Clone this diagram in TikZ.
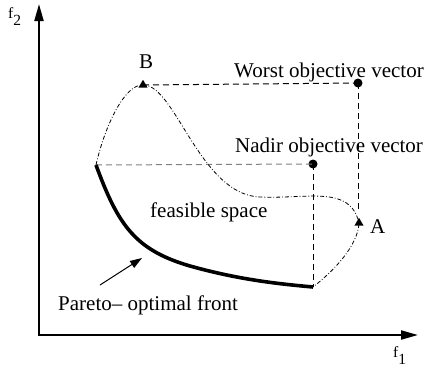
\documentclass[tikz,border=0pt]{standalone}
\usepackage{fontspec}
\setmainfont{Liberation Serif}
\usetikzlibrary{arrows.meta,shapes.geometric}
\begin{document}
\begin{tikzpicture}[x=1pt,y=-1pt,
  lbl/.style={font=\fontsize{21}{24}\selectfont,inner sep=0pt,anchor=base west},
  axlbl/.style={font=\fontsize{15.5}{18}\selectfont,inner sep=0pt},
  tri/.style={regular polygon,regular polygon sides=3,fill=black,inner sep=0pt,minimum size=10.5pt},
  dot/.style={circle,fill=black,inner sep=0pt,minimum size=9pt},
  axis/.style={line width=2pt,-{Triangle[length=17pt,width=9pt]}},
  guide/.style={line width=1pt,dash pattern=on 6pt off 4pt},
  bound/.style={line width=0.8pt,dash pattern=on 4pt off 2pt on 0.8pt off 2pt},
  front/.style={line width=3.6pt}]
\useasboundingbox (0,0) rectangle (424,373);
% axes
\coordinate (O) at (39,335);
\coordinate (Ytop) at (39,4);
\coordinate (Xend) at (418,335);
\draw[axis] (O) -- (Ytop);
\draw[axis] ([xshift=-1pt]O) -- (Xend);
\node[axlbl,anchor=base west] (f2) at (8,18) {f\raisebox{-7pt}{2}};
\node[axlbl,anchor=base west] (f1) at (393,357) {f\raisebox{-7pt}{1}};
% points
\coordinate (L) at (96,165);
\coordinate (R) at (313,287);
\node[tri] (B) at (143,85) {};
\node[tri] (A) at (359,223) {};
\node[dot] (W) at (358,83) {};
\node[dot] (N) at (313,164) {};
\coordinate (Wd) at (358,210);
% guides
\draw[guide] (B.center) -- (W.center);
\draw[guide] (W.center) -- (Wd);
\draw[guide,gray] (L) -- (N.center);
\draw[guide] (N.center) -- (R);
% feasible boundary
\draw[bound] (L) .. controls (105,125) and (125,84) .. (B.center)
  .. controls (175,84) and (200,195) .. (260,197)
  .. controls (310,199) and (350,185) .. (A.center)
  .. controls (358,245) and (335,270) .. (R);
% Pareto front
\draw[front] (L) .. controls (118,225) and (135,250) .. (190,266)
  .. controls (240,280) and (280,284) .. (R);
% arrow
\coordinate (pa) at (100,285);
\coordinate (pb) at (142,258);
\draw[line width=1pt,-{Triangle[length=12pt,width=8pt]}] (pa) -- (pb);
% labels
\node[lbl] (lB) at (139,68) {B};
\node[lbl] (lA) at (370,233) {A};
\node[lbl] (lW) at (234,77) {Worst objective vector};
\node[lbl] (lN) at (235,152) {Nadir objective vector};
\node[lbl] (lF) at (150,217) {feasible space};
\node[lbl] (lP) at (58,310) {Pareto– optimal front};
\end{tikzpicture}
\end{document}
